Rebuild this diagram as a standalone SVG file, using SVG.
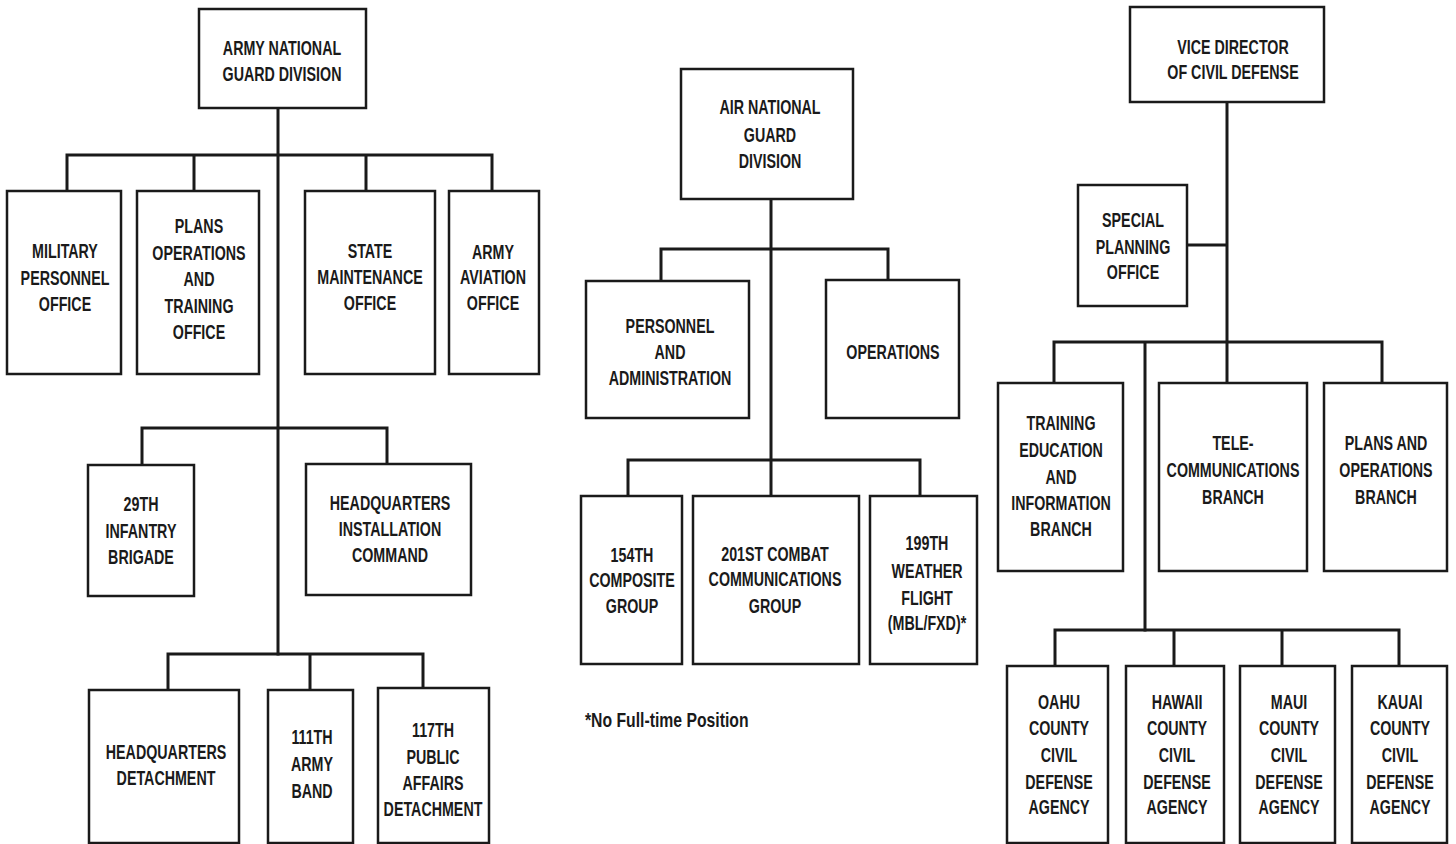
<svg xmlns="http://www.w3.org/2000/svg" width="1456" height="844" viewBox="0 0 1456 844">
<style>
.b{fill:#fff;stroke:#1a1a1a;stroke-width:2.5}
.c{fill:none;stroke:#1a1a1a;stroke-width:3;stroke-linecap:square}
.t{font-family:"Liberation Sans",Arial,sans-serif;font-size:21px;font-weight:bold;fill:#1a1a1a;text-anchor:middle}
.f{font-family:"Liberation Sans",Arial,sans-serif;font-size:21px;font-weight:bold;fill:#1a1a1a}
</style>
<rect width="1456" height="844" fill="#fff"/>
<g id="connectors">
<path class="c" d="M278 108V654M67 191V155H492V191M194 155V191M366 155V191"/>
<path class="c" d="M142 465V428H387V464"/>
<path class="c" d="M168 689V654H423V688M310 654V689"/>
<path class="c" d="M771 199V496M661 281V249H888V280"/>
<path class="c" d="M628 496V460H920V496"/>
<path class="c" d="M1227 102V383M1187 245H1227M1054 383V342H1382V383M1145 342V630"/>
<path class="c" d="M1055 666V630H1399V666M1174 630V666M1282 630V666"/>
</g>
<g id="army-national-guard-division"><rect class="b" x="199" y="9" width="167" height="99"/><text class="t" transform="translate(282 0) scale(0.68 1)"><tspan x="0" y="55.5">ARMY NATIONAL</tspan><tspan x="0" y="81.5">GUARD DIVISION</tspan></text></g>
<g id="military-personnel-office"><rect class="b" x="7" y="191" width="114" height="183"/><text class="t" transform="translate(65 0) scale(0.68 1)"><tspan x="0" y="258.5">MILITARY</tspan><tspan x="0" y="285.5">PERSONNEL</tspan><tspan x="0" y="311.5">OFFICE</tspan></text></g>
<g id="plans-operations-training-office"><rect class="b" x="137" y="191" width="122" height="183"/><text class="t" transform="translate(199 0) scale(0.68 1)"><tspan x="0" y="233.5">PLANS</tspan><tspan x="0" y="260.5">OPERATIONS</tspan><tspan x="0" y="286.5">AND</tspan><tspan x="0" y="313.5">TRAINING</tspan><tspan x="0" y="339.5">OFFICE</tspan></text></g>
<g id="state-maintenance-office"><rect class="b" x="305" y="191" width="130" height="183"/><text class="t" transform="translate(370 0) scale(0.68 1)"><tspan x="0" y="258.5">STATE</tspan><tspan x="0" y="284.5">MAINTENANCE</tspan><tspan x="0" y="310.5">OFFICE</tspan></text></g>
<g id="army-aviation-office"><rect class="b" x="449" y="191" width="90" height="183"/><text class="t" transform="translate(493 0) scale(0.68 1)"><tspan x="0" y="259.5">ARMY</tspan><tspan x="0" y="284.5">AVIATION</tspan><tspan x="0" y="310.5">OFFICE</tspan></text></g>
<g id="infantry-brigade-29th"><rect class="b" x="88" y="465" width="106" height="131"/><text class="t" transform="translate(141 0) scale(0.68 1)"><tspan x="0" y="511.5">29TH</tspan><tspan x="0" y="538.5">INFANTRY</tspan><tspan x="0" y="564.5">BRIGADE</tspan></text></g>
<g id="headquarters-installation-command"><rect class="b" x="306" y="464" width="165" height="131"/><text class="t" transform="translate(390 0) scale(0.68 1)"><tspan x="0" y="510.5">HEADQUARTERS</tspan><tspan x="0" y="536.5">INSTALLATION</tspan><tspan x="0" y="562.5">COMMAND</tspan></text></g>
<g id="headquarters-detachment"><rect class="b" x="89" y="690" width="150" height="153"/><text class="t" transform="translate(166 0) scale(0.68 1)"><tspan x="0" y="759.5">HEADQUARTERS</tspan><tspan x="0" y="785.5">DETACHMENT</tspan></text></g>
<g id="army-band-111th"><rect class="b" x="268" y="690" width="85" height="153"/><text class="t" transform="translate(312 0) scale(0.68 1)"><tspan x="0" y="744.5">111TH</tspan><tspan x="0" y="771.5">ARMY</tspan><tspan x="0" y="798.5">BAND</tspan></text></g>
<g id="public-affairs-detachment-117th"><rect class="b" x="378" y="688" width="111" height="155"/><text class="t" transform="translate(433 0) scale(0.68 1)"><tspan x="0" y="737.5">117TH</tspan><tspan x="0" y="764.5">PUBLIC</tspan><tspan x="0" y="790.5">AFFAIRS</tspan><tspan x="0" y="816.5">DETACHMENT</tspan></text></g>
<g id="air-national-guard-division"><rect class="b" x="681" y="69" width="172" height="130"/><text class="t" transform="translate(770 0) scale(0.68 1)"><tspan x="0" y="114.5">AIR NATIONAL</tspan><tspan x="0" y="142.5">GUARD</tspan><tspan x="0" y="168.5">DIVISION</tspan></text></g>
<g id="personnel-and-administration"><rect class="b" x="586" y="281" width="163" height="137"/><text class="t" transform="translate(670 0) scale(0.68 1)"><tspan x="0" y="333.5">PERSONNEL</tspan><tspan x="0" y="359.5">AND</tspan><tspan x="0" y="385.5">ADMINISTRATION</tspan></text></g>
<g id="operations"><rect class="b" x="826" y="280" width="133" height="138"/><text class="t" transform="translate(893 0) scale(0.68 1)"><tspan x="0" y="359.5">OPERATIONS</tspan></text></g>
<g id="composite-group-154th"><rect class="b" x="581" y="496" width="101" height="168"/><text class="t" transform="translate(632 0) scale(0.68 1)"><tspan x="0" y="562.5">154TH</tspan><tspan x="0" y="587.5">COMPOSITE</tspan><tspan x="0" y="613.5">GROUP</tspan></text></g>
<g id="combat-communications-group-201st"><rect class="b" x="693" y="496" width="166" height="168"/><text class="t" transform="translate(775 0) scale(0.68 1)"><tspan x="0" y="561.5">201ST COMBAT</tspan><tspan x="0" y="586.5">COMMUNICATIONS</tspan><tspan x="0" y="613.5">GROUP</tspan></text></g>
<g id="weather-flight-199th"><rect class="b" x="870" y="496" width="107" height="168"/><text class="t" transform="translate(927 0) scale(0.68 1)"><tspan x="0" y="550.5">199TH</tspan><tspan x="0" y="578.5">WEATHER</tspan><tspan x="0" y="605.5">FLIGHT</tspan><tspan x="0" y="630.5">(MBL/FXD)*</tspan></text></g>
<g id="footnote"><text class="f" transform="translate(585 0) scale(0.75 1)" x="0" y="727.5">*No Full-time Position</text></g>
<g id="vice-director-of-civil-defense"><rect class="b" x="1130" y="7" width="194" height="95"/><text class="t" transform="translate(1233 0) scale(0.68 1)"><tspan x="0" y="54.5">VICE DIRECTOR</tspan><tspan x="0" y="79.5">OF CIVIL DEFENSE</tspan></text></g>
<g id="special-planning-office"><rect class="b" x="1078" y="185" width="109" height="121"/><text class="t" transform="translate(1133 0) scale(0.68 1)"><tspan x="0" y="227.5">SPECIAL</tspan><tspan x="0" y="254.5">PLANNING</tspan><tspan x="0" y="279.5">OFFICE</tspan></text></g>
<g id="training-education-information-branch"><rect class="b" x="998" y="383" width="125" height="188"/><text class="t" transform="translate(1061 0) scale(0.68 1)"><tspan x="0" y="430.5">TRAINING</tspan><tspan x="0" y="457.5">EDUCATION</tspan><tspan x="0" y="484.5">AND</tspan><tspan x="0" y="510.5">INFORMATION</tspan><tspan x="0" y="536.5">BRANCH</tspan></text></g>
<g id="telecommunications-branch"><rect class="b" x="1159" y="383" width="148" height="188"/><text class="t" transform="translate(1233 0) scale(0.68 1)"><tspan x="0" y="450.5">TELE-</tspan><tspan x="0" y="477.5">COMMUNICATIONS</tspan><tspan x="0" y="504.5">BRANCH</tspan></text></g>
<g id="plans-and-operations-branch"><rect class="b" x="1324" y="383" width="123" height="188"/><text class="t" transform="translate(1386 0) scale(0.68 1)"><tspan x="0" y="450.5">PLANS AND</tspan><tspan x="0" y="477.5">OPERATIONS</tspan><tspan x="0" y="504.5">BRANCH</tspan></text></g>
<g id="oahu-county-civil-defense-agency"><rect class="b" x="1007" y="666" width="101" height="177"/><text class="t" transform="translate(1059 0) scale(0.68 1)"><tspan x="0" y="709.5">OAHU</tspan><tspan x="0" y="735.5">COUNTY</tspan><tspan x="0" y="762.5">CIVIL</tspan><tspan x="0" y="789.5">DEFENSE</tspan><tspan x="0" y="814.5">AGENCY</tspan></text></g>
<g id="hawaii-county-civil-defense-agency"><rect class="b" x="1126" y="666" width="98" height="177"/><text class="t" transform="translate(1177 0) scale(0.68 1)"><tspan x="0" y="709.5">HAWAII</tspan><tspan x="0" y="735.5">COUNTY</tspan><tspan x="0" y="762.5">CIVIL</tspan><tspan x="0" y="789.5">DEFENSE</tspan><tspan x="0" y="814.5">AGENCY</tspan></text></g>
<g id="maui-county-civil-defense-agency"><rect class="b" x="1240" y="666" width="95" height="177"/><text class="t" transform="translate(1289 0) scale(0.68 1)"><tspan x="0" y="709.5">MAUI</tspan><tspan x="0" y="735.5">COUNTY</tspan><tspan x="0" y="762.5">CIVIL</tspan><tspan x="0" y="789.5">DEFENSE</tspan><tspan x="0" y="814.5">AGENCY</tspan></text></g>
<g id="kauai-county-civil-defense-agency"><rect class="b" x="1352" y="666" width="95" height="177"/><text class="t" transform="translate(1400 0) scale(0.68 1)"><tspan x="0" y="709.5">KAUAI</tspan><tspan x="0" y="735.5">COUNTY</tspan><tspan x="0" y="762.5">CIVIL</tspan><tspan x="0" y="789.5">DEFENSE</tspan><tspan x="0" y="814.5">AGENCY</tspan></text></g>
</svg>
